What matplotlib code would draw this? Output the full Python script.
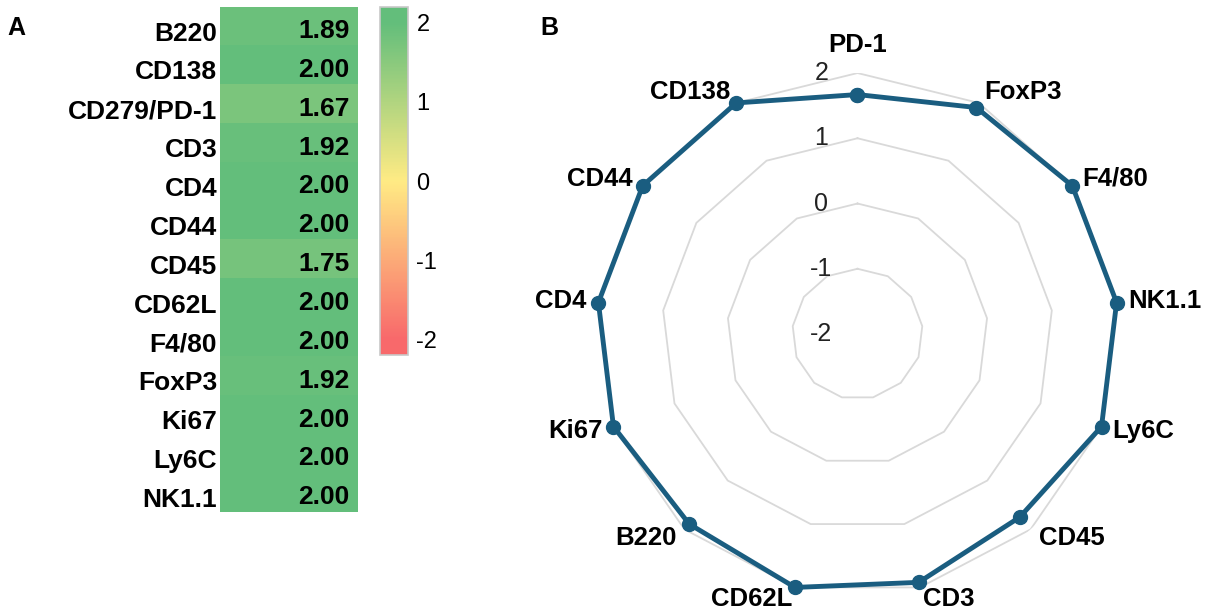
import numpy as np
import matplotlib
matplotlib.use('Agg')
import matplotlib.pyplot as plt
from matplotlib.colors import LinearSegmentedColormap, Normalize

plt.rcParams['font.family'] = ['Liberation Sans', 'DejaVu Sans']
plt.rcParams['axes.unicode_minus'] = False

# data
heat_labels = ['B220', 'CD138', 'CD279/PD-1', 'CD3', 'CD4', 'CD44', 'CD45',
               'CD62L', 'F4/80', 'FoxP3', 'Ki67', 'Ly6C', 'NK1.1']
heat_values = [1.89, 2.00, 1.67, 1.92, 2.00, 2.00, 1.75, 2.00, 2.00, 1.92, 2.00, 2.00, 2.00]

radar_labels = ['PD-1', 'FoxP3', 'F4/80', 'NK1.1', 'Ly6C', 'CD45', 'CD3',
                'CD62L', 'B220', 'Ki67', 'CD4', 'CD44', 'CD138']
radar_values = [1.67, 1.92, 2.00, 2.00, 2.00, 1.75, 1.92, 2.00, 1.89, 2.00, 2.00, 2.00, 2.00]
radial_ticks = [-2, -1, 0, 1, 2]
cbar_ticks = [-2, -1, 0, 1, 2]

# excel-like 3 colour scale
lo, hi = -2.2, 2.2
def pos(v):
    return (v - lo) / (hi - lo)
cmap = LinearSegmentedColormap.from_list('rdylgn_xl', [
    (0.0, '#f8696b'), (pos(-2), '#f8696b'), (0.5, '#ffeb84'),
    (pos(2), '#63be7b'), (1.0, '#63be7b')])
norm = Normalize(lo, hi)

fig = plt.figure(figsize=(12.08, 6.14), dpi=100)

# ---- panel A: heatmap
ax = fig.add_axes([0.1821, 0.1661, 0.1142, 0.8225])
arr = np.array(heat_values).reshape(-1, 1)
ax.imshow(arr, cmap=cmap, norm=norm, aspect='auto')
for i, v in enumerate(heat_values):
    ax.text(0.44, i + 0.12, f'{v:.2f}', ha='right', va='center', fontsize=19,
            fontweight='bold', color='black')
ax.set_yticks(np.arange(len(heat_labels)) + 0.12)
ax.set_yticklabels(heat_labels, fontsize=19, fontweight='bold')
ax.set_ylim(len(heat_labels) - 0.5, -0.5)
ax.tick_params(axis='y', length=0, pad=2)
ax.set_xticks([])
for s in ax.spines.values():
    s.set_visible(False)

# colorbar
cax = fig.add_axes([0.3146, 0.4218, 0.0232, 0.5668])
sm = plt.cm.ScalarMappable(norm=norm, cmap=cmap)
cb = fig.colorbar(sm, cax=cax, ticks=cbar_ticks)
cb.ax.tick_params(length=0, labelsize=17, pad=6)
cb.outline.set_edgecolor('#c8c8c8')
cb.outline.set_linewidth(1.2)

fig.text(0.0135, 0.955, 'A', fontsize=18, fontweight='bold', ha='center', va='center')
fig.text(0.455, 0.955, 'B', fontsize=18, fontweight='bold', ha='center', va='center')

# ---- panel B: radar
n = len(radar_labels)
theta = np.arange(n) * 2 * np.pi / n
pax = fig.add_axes([0.4938, 0.0309, 0.4321, 0.8502], projection='polar')
pax.set_theta_zero_location('N')
pax.set_theta_direction(-1)
pax.set_ylim(-2, 2)
pax.grid(False)
pax.spines['polar'].set_visible(False)
pax.set_xticks([])
pax.set_yticks([])
pax.patch.set_alpha(0)

tc = np.append(theta, theta[0])
for lv in radial_ticks[1:]:
    pax.plot(tc, [lv] * (n + 1), color='#d9d9d9', lw=1.3, zorder=1)
for lv in radial_ticks:
    pax.annotate(str(lv), xy=(0, lv), xytext=(-36, 0), textcoords='offset pixels',
                 ha='center', va='center', fontsize=18, color='#222222', zorder=2)

vals = np.append(radar_values, radar_values[0])
pax.plot(tc, vals, color='#1a5d80', lw=3.5, marker='o', markersize=10, zorder=3,
         clip_on=False)

for t, lab in zip(theta, radar_labels):
    s, c = np.sin(t), np.cos(t)
    if abs(s) < 0.05:
        pax.annotate(lab, xy=(t, 2), xytext=(0, 16), textcoords='offset pixels',
                     ha='center', va='bottom', fontsize=18.5, fontweight='bold')
    else:
        pax.annotate(lab, xy=(t, 2), xytext=(12 * s, 12 * c), textcoords='offset pixels',
                     ha='left' if s > 0 else 'right', va='center',
                     fontsize=18.5, fontweight='bold')

fig.savefig('out.png', dpi=100)
